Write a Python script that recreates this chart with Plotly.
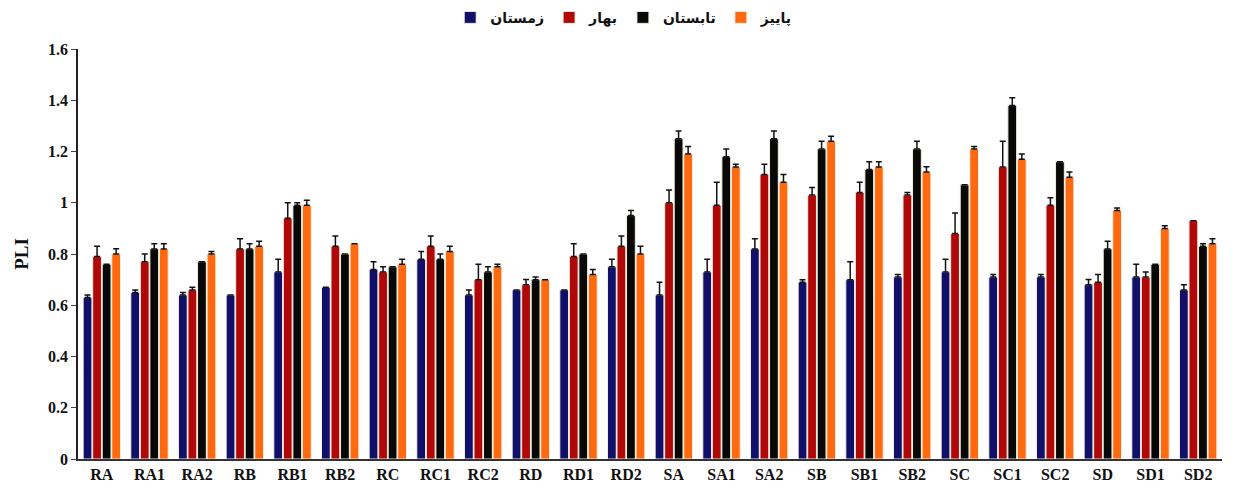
import plotly.graph_objects as go

categories = ["RA", "RA1", "RA2", "RB", "RB1", "RB2", "RC", "RC1", "RC2", "RD", "RD1", "RD2",
              "SA", "SA1", "SA2", "SB", "SB1", "SB2", "SC", "SC1", "SC2", "SD", "SD1", "SD2"]

series_names = ["زمستان", "بهار", "تابستان", "پاییز"]

winter = [0.63, 0.65, 0.64, 0.64, 0.73, 0.67, 0.74, 0.78, 0.64, 0.66, 0.66, 0.75,
          0.64, 0.73, 0.82, 0.69, 0.70, 0.71, 0.73, 0.71, 0.71, 0.68, 0.71, 0.66]
winter_err = [0.01, 0.01, 0.01, 0.00, 0.05, 0.00, 0.03, 0.03, 0.02, 0.00, 0.00, 0.03,
              0.05, 0.05, 0.04, 0.01, 0.07, 0.01, 0.05, 0.01, 0.01, 0.02, 0.05, 0.02]

spring = [0.79, 0.77, 0.66, 0.82, 0.94, 0.83, 0.73, 0.83, 0.70, 0.68, 0.79, 0.83,
          1.00, 0.99, 1.11, 1.03, 1.04, 1.03, 0.88, 1.14, 0.99, 0.69, 0.71, 0.93]
spring_err = [0.04, 0.03, 0.01, 0.04, 0.06, 0.04, 0.02, 0.04, 0.06, 0.02, 0.05, 0.04,
              0.05, 0.09, 0.04, 0.03, 0.04, 0.01, 0.08, 0.10, 0.03, 0.03, 0.02, 0.00]

summer = [0.76, 0.82, 0.77, 0.82, 0.99, 0.80, 0.75, 0.78, 0.73, 0.70, 0.80, 0.95,
          1.25, 1.18, 1.25, 1.21, 1.13, 1.21, 1.07, 1.38, 1.16, 0.82, 0.76, 0.83]
summer_err = [0.00, 0.02, 0.00, 0.02, 0.01, 0.00, 0.00, 0.02, 0.02, 0.01, 0.00, 0.02,
              0.03, 0.03, 0.03, 0.03, 0.03, 0.03, 0.00, 0.03, 0.00, 0.03, 0.00, 0.01]

autumn = [0.80, 0.82, 0.80, 0.83, 0.99, 0.84, 0.76, 0.81, 0.75, 0.70, 0.72, 0.80,
          1.19, 1.14, 1.08, 1.24, 1.14, 1.12, 1.21, 1.17, 1.10, 0.97, 0.90, 0.84]
autumn_err = [0.02, 0.02, 0.01, 0.02, 0.02, 0.00, 0.02, 0.02, 0.01, 0.00, 0.02, 0.03,
              0.03, 0.01, 0.03, 0.02, 0.02, 0.02, 0.01, 0.02, 0.02, 0.01, 0.01, 0.02]

colors = ["#10106a", "#b00808", "#080808", "#ff6a10"]

fig = go.Figure()
for name, vals, errs, col in zip(series_names,
                                 [winter, spring, summer, autumn],
                                 [winter_err, spring_err, summer_err, autumn_err],
                                 colors):
    fig.add_trace(go.Bar(
        x=categories, y=vals, name=name,
        marker=dict(color=col, line=dict(color="#f4f0e0", width=1)),
        error_y=dict(type="data", symmetric=False, array=errs,
                     arrayminus=[0] * len(errs), color="#111111",
                     thickness=1.5, width=3),
    ))

fig.update_layout(
    width=1234, height=489,
    barmode="group", bargap=0.2, bargroupgap=0.08,
    plot_bgcolor="white", paper_bgcolor="white",
    margin=dict(l=70, r=20, t=41, b=38, autoexpand=False),
    font=dict(family="Liberation Serif", size=15, color="#111111"),
    legend=dict(orientation="h", x=0.477, xanchor="center",
                yref="container", y=0.98, yanchor="middle",
                font=dict(family="DejaVu Sans", size=14, color="#111111", weight="bold"),
                itemwidth=30, tracegroupgap=0, traceorder="normal"),
    showlegend=True,
)
fig.update_xaxes(showline=True, linecolor="#333333", linewidth=1.5, ticks="",
                 tickfont=dict(family="Liberation Serif", size=16, weight="bold"),
                 range=[-0.5, 23.5])
fig.update_yaxes(range=[0, 1.6], showgrid=False, zeroline=False,
                 showline=True, linecolor="#222222", linewidth=1.5,
                 ticks="outside", ticklen=5, tickcolor="#444444",
                 tickvals=[0, 0.2, 0.4, 0.6, 0.8, 1.0, 1.2, 1.4, 1.6],
                 ticktext=["0", "0.2", "0.4", "0.6", "0.8", "1", "1.2", "1.4", "1.6"],
                 tickfont=dict(family="Liberation Serif", size=16, weight="bold"),
                 title=dict(text="PLI", font=dict(family="Liberation Serif", size=19, weight="bold"),
                            standoff=14))

fig.write_html("out.html")
